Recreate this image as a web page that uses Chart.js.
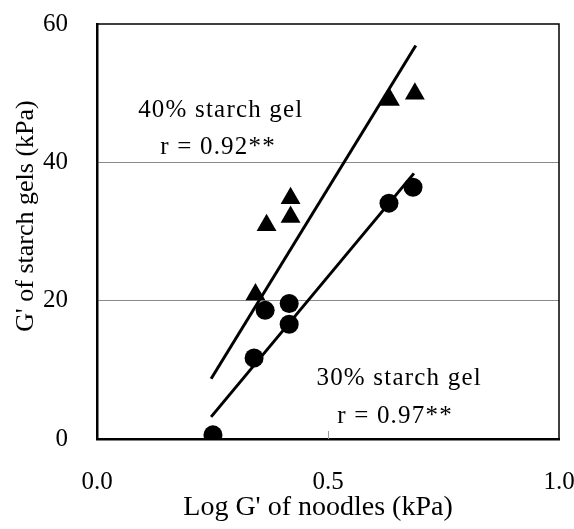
<!DOCTYPE html>
<html>
<head>
<meta charset="utf-8">
<script src="https://cdn.jsdelivr.net/npm/chart.js@4"></script>
<style>
  html,body{margin:0;padding:0;background:#fff;}
  #wrap{width:574px;height:529px;position:relative;}
</style>
</head>
<body>
<div id="wrap"><canvas id="c" width="574" height="529"></canvas></div>
<script>
// Data
const x40 = [0.250, 0.343, 0.367, 0.419, 0.419, 0.634, 0.688];
const y40 = [0.3, 20.9, 30.9, 34.8, 32.1, 49.0, 49.9];
const x30 = [0.251, 0.340, 0.364, 0.416, 0.416, 0.632, 0.684];
const y30 = [0.6, 11.7, 18.6, 19.6, 16.6, 34.1, 36.4];
const fit40X = [0.247, 0.690];
const fit40Y = [8.7, 56.9];
const fit30X = [0.247, 0.686];
const fit30Y = [3.2, 38.4];
const xTicks = [0.0, 0.5, 1.0];
const yTicks = [0, 20, 40, 60];
const xTitle = "Log G' of noodles (kPa)";
const yTitle = "G' of starch gels (kPa)";
const notes = [
  {text: '40% starch gel', x: 0.268, y: 46.5},
  {text: 'r = 0.92**', x: 0.262, y: 41.2},
  {text: '30% starch gel', x: 0.654, y: 7.8},
  {text: 'r = 0.97**', x: 0.645, y: 2.3}
];

const pts = (xs, ys) => xs.map((v, i) => ({x: v, y: ys[i]}));
const SERIF = '"Liberation Serif", "DejaVu Serif", serif';

const decor = {
  id: 'decor',
  afterDraw(chart) {
    const ctx = chart.ctx, a = chart.chartArea;
    const xs = chart.scales.x, ys = chart.scales.y;
    ctx.save();
    // top & right frame lines
    ctx.strokeStyle = '#000';
    ctx.lineWidth = 1.5;
    ctx.beginPath();
    ctx.moveTo(a.left, a.top); ctx.lineTo(a.right, a.top); ctx.lineTo(a.right, a.bottom);
    ctx.stroke();
    // inward tick at 0.5
    ctx.strokeStyle = '#999';
    ctx.lineWidth = 1;
    const tx = Math.round(xs.getPixelForValue(0.5)) + 0.5;
    ctx.beginPath(); ctx.moveTo(tx, a.bottom); ctx.lineTo(tx, a.bottom - 8); ctx.stroke();
    // annotations
    ctx.fillStyle = '#000';
    ctx.font = '25px ' + SERIF;
    ctx.letterSpacing = '1.2px';
    ctx.textAlign = 'center';
    ctx.textBaseline = 'alphabetic';
    notes.forEach(n => ctx.fillText(n.text, xs.getPixelForValue(n.x), ys.getPixelForValue(n.y)));
    ctx.letterSpacing = '0px';
    // axis titles
    ctx.font = '28px ' + SERIF;
    ctx.textBaseline = 'middle';
    ctx.fillText(xTitle, 318, 508);
    ctx.translate(26, 216);
    ctx.rotate(-Math.PI / 2);
    ctx.font = '26px ' + SERIF;
    ctx.fillText(yTitle, 0, 0);
    ctx.restore();
  }
};

const noPad = s => { s.paddingTop = 0; s.paddingBottom = 0; s.paddingLeft = 0; s.paddingRight = 0; };

new Chart(document.getElementById('c'), {
  type: 'scatter',
  data: {
    datasets: [
      {label: '40% starch gel', data: pts(x40, y40), pointStyle: 'triangle', pointRadius: 11.5,
       backgroundColor: '#000', borderColor: '#000', borderWidth: 0, order: 2},
      {label: '30% starch gel', data: pts(x30, y30), pointStyle: 'circle', pointRadius: 9.5,
       backgroundColor: '#000', borderColor: '#000', borderWidth: 0, order: 2},
      {type: 'line', label: 'fit 40%', data: pts(fit40X, fit40Y), showLine: true, pointRadius: 0,
       borderColor: '#000', borderWidth: 3, fill: false, order: 1},
      {type: 'line', label: 'fit 30%', data: pts(fit30X, fit30Y), showLine: true, pointRadius: 0,
       borderColor: '#000', borderWidth: 3, fill: false, order: 1}
    ]
  },
  options: {
    responsive: false,
    animation: false,
    layout: {padding: {top: 24, right: 15, left: 0, bottom: 0}},
    plugins: {legend: {display: false}, tooltip: {enabled: false}},
    scales: {
      x: {
        type: 'linear', min: 0, max: 1,
        afterBuildTicks: s => { s.ticks = xTicks.map(v => ({value: v})); },
        afterFit: s => { s.height = 90; noPad(s); },
        ticks: {color: '#000', font: {family: SERIF, size: 25}, padding: 28,
                callback: v => Number(v).toFixed(1), maxRotation: 0},
        grid: {display: false, drawTicks: false},
        border: {display: true, color: '#000', width: 2.5}
      },
      y: {
        type: 'linear', min: 0, max: 60,
        afterBuildTicks: s => { s.ticks = yTicks.map(v => ({value: v})); },
        afterFit: s => { s.width = 97; noPad(s); },
        ticks: {color: '#000', font: {family: SERIF, size: 25}, padding: 29},
        grid: {color: ctx => (ctx.tick && (ctx.tick.value === 20 || ctx.tick.value === 40)) ? '#8a8a8a' : 'rgba(0,0,0,0)',
               lineWidth: 1, drawTicks: false},
        border: {display: true, color: '#000', width: 2.5}
      }
    }
  },
  plugins: [decor]
});
</script>
</body>
</html>
